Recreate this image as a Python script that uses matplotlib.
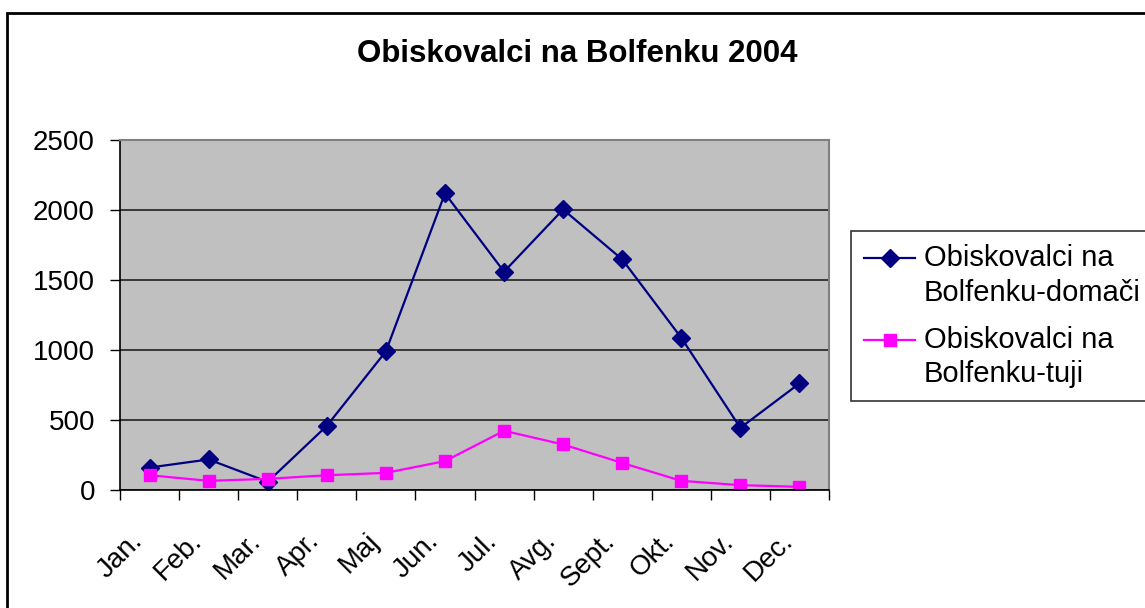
import matplotlib.pyplot as plt
from matplotlib.patches import Rectangle
from matplotlib.legend_handler import HandlerLine2D
from matplotlib.transforms import Affine2D, ScaledTranslation

months = ["Jan.", "Feb.", "Mar.", "Apr.", "Maj", "Jun.", "Jul.", "Avg.", "Sept.", "Okt.", "Nov.", "Dec."]
domaci = [157, 215, 55, 455, 988, 2118, 1558, 2003, 1646, 1085, 441, 759]
tuji = [102, 62, 76, 102, 119, 203, 420, 322, 190, 62, 31, 19]

plt.rcParams['font.family'] = ['Liberation Sans', 'DejaVu Sans']


# legend handle sits next to the first line of a two-line label
class FirstLineHandler(HandlerLine2D):
    def create_artists(self, legend, orig_handle, xdescent, ydescent, width, height, fontsize, trans):
        arts = super().create_artists(legend, orig_handle, xdescent, ydescent, width, height, fontsize, trans)
        for a in arts:
            a.set_transform(Affine2D().translate(0, 0.62 * fontsize) + trans)
        return arts


fig = plt.figure(figsize=(11.45, 6.08), dpi=100)
ax = fig.add_axes([120 / 1145, 1 - 489.5 / 608, 709 / 1145, 349.5 / 608])

# outer chart frame
fig.patches.append(Rectangle((7 / 1145, -0.05), 1.2, 1 - 13 / 608 + 0.05,
                             transform=fig.transFigure, fill=False,
                             edgecolor='black', linewidth=2))

ax.set_facecolor('#C0C0C0')
x = range(len(months))
l1, = ax.plot(x, domaci, color='#000080', marker='D', markersize=9, linewidth=1.6,
              label="Obiskovalci na\nBolfenku-domači")
l2, = ax.plot(x, tuji, color='#FF00FF', marker='s', markersize=8, linewidth=1.6,
              label="Obiskovalci na\nBolfenku-tuji")

ax.set_xlim(-0.5, 11.5)
ax.set_ylim(0, 2500)
ax.set_yticks(range(0, 2501, 500))
ax.grid(axis='y', color='#202020', linewidth=1.2)
ax.set_axisbelow(True)

ax.set_xticks(list(x))
ax.set_xticklabels(months, rotation=45, ha='right', va='top', rotation_mode='anchor')
ax.set_xticks([i - 0.5 for i in range(13)], minor=True)
ax.tick_params(axis='x', which='major', length=0, pad=22, labelsize=20)
ax.tick_params(axis='x', which='minor', length=7, width=1, direction='out')
ax.tick_params(axis='y', length=7, width=1, pad=11, labelsize=20)
shift = ScaledTranslation(-0.2, -0.08, fig.dpi_scale_trans)
for lab in ax.get_xticklabels():
    lab.set_transform(lab.get_transform() + shift)

for s in ['top', 'right']:
    ax.spines[s].set_color('#808080')
    ax.spines[s].set_linewidth(1.5)
for s in ['left', 'bottom']:
    ax.spines[s].set_color('black')
    ax.spines[s].set_linewidth(1.2)

fig.text(0.504, 1 - 54 / 608, "Obiskovalci na Bolfenku 2004", ha='center', va='center',
         fontsize=22.5, fontweight='bold')

leg = fig.legend(loc='upper left', bbox_to_anchor=(851 / 1145, 1 - 231 / 608),
                 fontsize=21, frameon=True, fancybox=False, edgecolor='black',
                 borderpad=0.45, handlelength=1.75, handletextpad=0.3, labelspacing=0.65,
                 borderaxespad=0, handler_map={l1: FirstLineHandler(), l2: FirstLineHandler()})
leg.get_frame().set_linewidth(1.2)
for t in leg.get_texts():
    t.set_linespacing(1.3)

fig.savefig("out.png", dpi=100)
